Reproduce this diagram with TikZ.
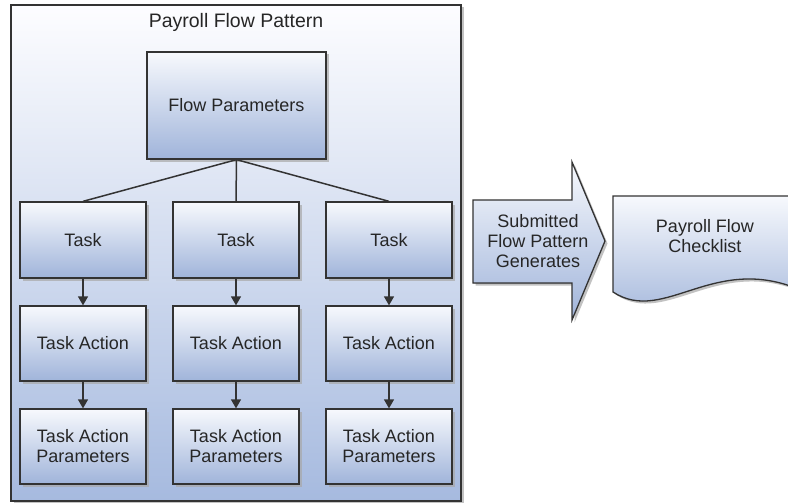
\documentclass[tikz,border=0pt]{standalone}
\usepackage{fontspec}
\setmainfont{Liberation Sans}
\usetikzlibrary{shadows,arrows.meta}
\definecolor{bordc}{HTML}{333333}
\definecolor{boxtop}{HTML}{F7F9FD}
\definecolor{boxbot}{HTML}{A0B4DA}
\definecolor{frametop}{HTML}{FDFDFF}
\definecolor{framebot}{HTML}{A6BADF}
\definecolor{shadc}{HTML}{A8A8A8}
\tikzset{
  txt/.style={font=\fontsize{18}{20}\selectfont, text=black!85},
  shad/.style={drop shadow={shadow xshift=2.5pt, shadow yshift=-2.5pt, fill=shadc, opacity=0.7}},
  box/.style={txt, draw=bordc, line width=1.3pt, top color=boxtop, bottom color=boxbot,
    shad, rectangle, align=center, inner sep=0pt},
  link/.style={draw=bordc, line width=1.5pt},
  flow/.style={link, -{Triangle[length=9pt,width=10pt]}},
}
\begin{document}
\begin{tikzpicture}[x=1pt,y=-1pt]
\useasboundingbox (0,0) rectangle (788,503);
\clip (0,0) rectangle (788,503);
% outer frame
\node[draw=bordc, line width=1.5pt, top color=frametop, bottom color=framebot, shad,
  rectangle, minimum width=450pt, minimum height=496pt, inner sep=0pt] (frame) at (236,253) {};
\node[txt, font=\fontsize{19.5}{22}\selectfont, anchor=base] (title) at (236,28) {Payroll Flow Pattern};
% flow parameters
\node[box, minimum width=179pt, minimum height=107pt] (fp) at (236.5,105.5) {Flow Parameters};
% columns
\foreach \i/\x in {1/83,2/236,3/389}{
  \node[box, minimum width=126pt, minimum height=76pt] (t\i) at (\x,240) {Task};
  \node[box, minimum width=126pt, minimum height=75pt] (a\i) at (\x,343.5) {Task Action};
  \node[box, minimum width=126pt, minimum height=75pt] (p\i) at (\x,446.5) {Task Action\\Parameters};
  \draw[link] (fp.south) -- (t\i.north);
  \draw[flow] (t\i.south) -- (a\i.north);
  \draw[flow] (a\i.south) -- (p\i.north);
}
% big arrow
\filldraw[draw=bordc, line width=1.3pt, top color=boxtop, bottom color=boxbot, shad]
  (473,200) -- (572,200) -- (572,162) -- (605,241) -- (572,320) -- (572,283) -- (473,283) -- cycle;
\node[txt, align=center] (gen) at (538,241) {Submitted\\Flow Pattern\\Generates};
% document
\filldraw[draw=bordc, line width=1.3pt, top color=boxtop, bottom color=boxbot, shad]
  (613,196) -- (805,196) -- (805,292)
  .. controls (715,250) and (665,326) .. (613,292) -- cycle;
\node[txt, align=center] (chk) at (705,236) {Payroll Flow\\Checklist};
\end{tikzpicture}
\end{document}
